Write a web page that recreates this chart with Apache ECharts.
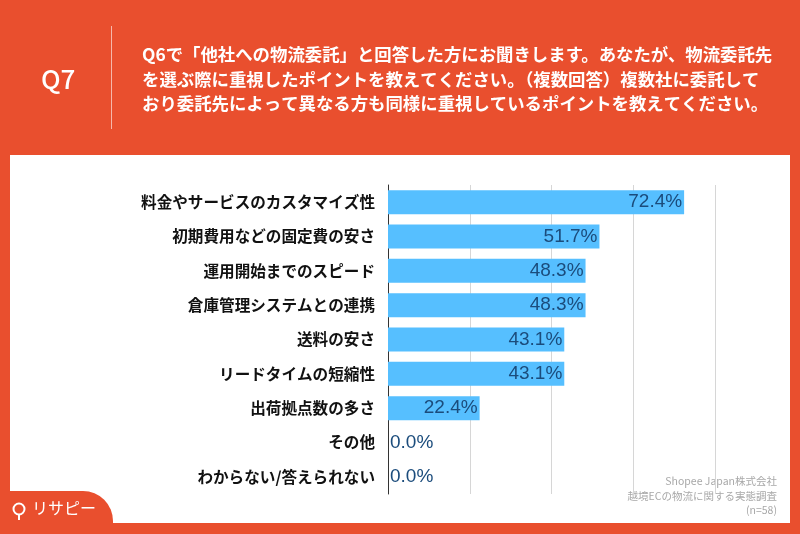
<!DOCTYPE html>
<html>
<head>
<meta charset="utf-8">
<script src="https://cdn.jsdelivr.net/npm/echarts@6/dist/echarts.min.js"></script>
<style>
  html, body { margin: 0; padding: 0; background: #E94F2E; }
  #main { width: 800px; height: 534px; }
</style>
</head>
<body>
<div id="main"></div>
<script>
// データ
var categories = [
    '料金やサービスのカスタマイズ性',
    '初期費用などの固定費の安さ',
    '運用開始までのスピード',
    '倉庫管理システムとの連携',
    '送料の安さ',
    'リードタイムの短縮性',
    '出荷拠点数の多さ',
    'その他',
    'わからない/答えられない'
];
var values = [72.4, 51.7, 48.3, 48.3, 43.1, 43.1, 22.4, 0.0, 0.0];
var questionLines = [
    'Q6で「他社への物流委託」と回答した方にお聞きします。あなたが、物流委託先',
    'を選ぶ際に重視したポイントを教えてください。（複数回答）複数社に委託して',
    'おり委託先によって異なる方も同様に重視しているポイントを教えてください。'
];
var sourceLines = ['Shopee Japan株式会社', '越境ECの物流に関する実態調査', '(n=58)'];

var ORANGE = '#E94F2E';
var FONT = '"Noto Sans CJK JP", "Noto Sans", sans-serif';

var myChart = echarts.init(document.getElementById('main'));

var graphics = [
    // 白いパネル
    { type: 'rect', z: -10, shape: { x: 10, y: 155, width: 780, height: 368 }, style: { fill: '#ffffff' } },
    // 見出し
    { type: 'text', left: 41, top: 66, style: { text: 'Q7', fill: '#fff', font: '500 26px ' + FONT } },
    { type: 'rect', shape: { x: 111, y: 26, width: 1, height: 103 }, style: { fill: 'rgba(255,255,255,0.6)' } },
    // ロゴのタブ
    { type: 'rect', z: 50, shape: { x: -40, y: 491, width: 153, height: 80, r: [0, 30, 0, 0] }, style: { fill: ORANGE } },
    { type: 'circle', z: 51, shape: { cx: 19, cy: 509, r: 5.5 }, style: { fill: 'none', stroke: '#fff', lineWidth: 2 } },
    { type: 'rect', z: 51, shape: { x: 18, y: 514, width: 2, height: 6 }, style: { fill: '#fff' } },
    { type: 'text', z: 51, left: 32, top: 500, style: { text: 'リサピー', fill: '#fff', font: '16px ' + FONT } }
];
questionLines.forEach(function (t, i) {
    graphics.push({ type: 'text', left: 142, top: 46 + i * 24.5, style: { text: t, fill: '#fff', font: 'bold 17.4px ' + FONT } });
});
sourceLines.forEach(function (t, i) {
    graphics.push({ type: 'text', right: 23, top: 476 + i * 14.5, style: { text: t, fill: '#a8a8a8', font: '10.5px ' + FONT, align: 'right' } });
});

option = {
    backgroundColor: ORANGE,
    animation: false,
    graphic: graphics,
    grid: {
        left: 388,
        right: 3,
        top: 185,
        bottom: 40
    },
    xAxis: {
        type: 'value',
        min: 0,
        max: 100,
        interval: 20,
        axisLabel: { show: false },
        axisLine: { show: false },
        axisTick: { show: false },
        splitLine: {
            show: true,
            showMaxLine: false,
            lineStyle: { color: '#d6d6d6', width: 1 }
        }
    },
    yAxis: {
        type: 'category',
        inverse: true,
        data: categories,
        axisTick: { show: false },
        axisLine: { lineStyle: { color: '#333', width: 1 } },
        axisLabel: {
            color: '#111',
            fontSize: 15.6,
            fontWeight: 'bold',
            fontFamily: FONT,
            margin: 13
        }
    },
    series: [
        {
            type: 'bar',
            data: values.map(function (v) {
                return {
                    value: v,
                    label: v > 10 ? { position: 'insideRight', distance: 2 } : { position: 'right', distance: 2 }
                };
            }),
            barWidth: 24,
            itemStyle: { color: '#56BFFF' },
            label: {
                show: true,
                color: '#1B4C7C',
                fontSize: 19,
                fontFamily: '"Liberation Sans", Roboto, sans-serif',
                formatter: function (p) { return p.value.toFixed(1) + '%'; }
            }
        }
    ]
};
myChart.setOption(option);
</script>
</body>
</html>
